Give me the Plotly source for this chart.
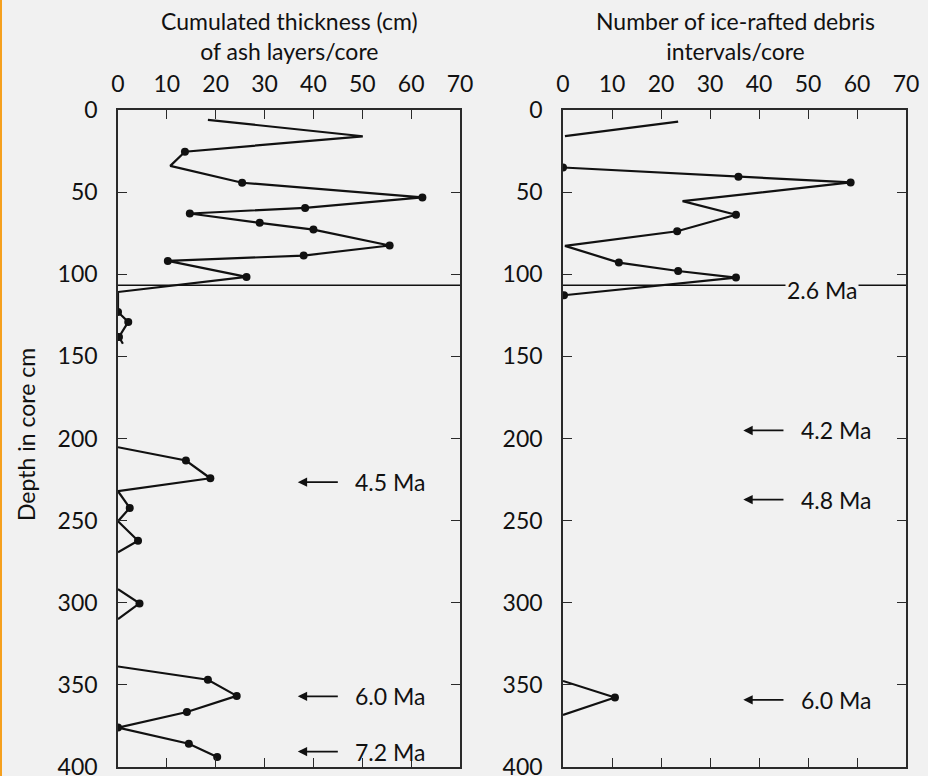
import plotly.graph_objects as go

# ---------------- data ----------------
# Left panel: cumulated thickness (cm) of ash layers per core vs depth (cm); None = gap
ash_depth = [6, 16, 25.4, 34, 44.3, 53.2, 59.6, 63, 68.7, 72.8, 82.5, 88.6, 91.9, 101.6, 110.8, 123, 129, 138.2, 142.3,
             None,
             205.3, 213.4, 224.2, 232.1, 242.3, 250.4, 262.2, 269.3,
             None,
             291.7, 300.4, 310,
             None,
             338.8, 346.9, 356.7, 366.5, 376, 385.8, 393.9]
ash_value = [18.4, 50.1, 13.7, 10.7, 25.4, 62.3, 38.3, 14.7, 29, 40, 55.6, 38, 10.2, 26.3, 0, 0, 2.1, 0.2, 1,
             None,
             0, 13.9, 18.9, 0, 2.4, 0, 4.1, 0,
             None,
             0, 4.4, 0,
             None,
             0, 18.4, 24.3, 14.1, 0, 14.5, 20.3]
ash_sampled = [0, 0, 1, 0, 1, 1, 1, 1, 1, 1, 1, 1, 1, 1, 0, 1, 1, 1, 0,
               0,
               0, 1, 1, 0, 1, 0, 1, 0,
               0,
               0, 1, 0,
               0,
               0, 1, 1, 1, 1, 1, 1]

# Right panel: number of ice-rafted debris intervals per core vs depth (cm)
ird_depth = [7.1, 15.9,
             None,
             35, 40.6, 44.1, 55.5, 63.8, 73.8, 82.7, 92.9, 98, 102, 112.8,
             None,
             347.6, 357.7, 368.3]
ird_value = [23.5, 0.4,
             None,
             0, 35.8, 58.7, 24.4, 35.3, 23.3, 0.4, 11.4, 23.5, 35.3, 0.2,
             None,
             0, 10.6, 0]
ird_sampled = [0, 0,
               0,
               1, 1, 1, 0, 1, 1, 0, 1, 1, 1, 1,
               0,
               0, 1, 0]

# Age markers
ash_ages = ["4.5 Ma", "6.0 Ma", "7.2 Ma"]
ash_age_depths = [226.6, 357, 390.6]
ird_ages = ["4.2 Ma", "4.8 Ma", "6.0 Ma"]
ird_age_depths = [195.1, 237.2, 359.1]
boundary_age = "2.6 Ma"
boundary_depth = 106.7

x_ticks = [0, 10, 20, 30, 40, 50, 60, 70]
y_ticks = [0, 50, 100, 150, 200, 250, 300, 350, 400]

left_title = "Cumulated thickness (cm)<br>of ash layers/core"
right_title = "Number of ice-rafted debris<br>intervals/core"
y_title = "Depth in core cm"

# ---------------- figure ----------------
FONT = "Lato"
BG = "#f1f1f1"
INK = "#111111"
W, H = 928, 776

fig = go.Figure()


def add_series(xs, ys, sampled, xa, ya):
    fig.add_trace(go.Scatter(x=xs, y=ys, mode="lines", line=dict(color=INK, width=2.2),
                             connectgaps=False, xaxis=xa, yaxis=ya, showlegend=False, hoverinfo="skip"))
    mx = [x for x, s in zip(xs, sampled) if s]
    my = [y for y, s in zip(ys, sampled) if s]
    fig.add_trace(go.Scatter(x=mx, y=my, mode="markers", marker=dict(color=INK, size=8),
                             xaxis=xa, yaxis=ya, showlegend=False))


add_series(ash_value, ash_depth, ash_sampled, "x", "y")
add_series(ird_value, ird_depth, ird_sampled, "x2", "y2")

ydom = [1 - 767 / H, 1 - 110 / H]
axis_common = dict(showline=True, linecolor="#2a2a2a", linewidth=1.5, mirror="ticks",
                   ticks="inside", ticklen=9, tickwidth=1.3, tickcolor="#2a2a2a",
                   showgrid=False, zeroline=False, automargin=False, ticklabeloverflow="allow",
                   tickfont=dict(family=FONT, size=23, color=INK))

fig.update_layout(
    width=W, height=H, autosize=False,
    margin=dict(l=0, r=0, t=0, b=0, pad=0, autoexpand=False),
    paper_bgcolor=BG, plot_bgcolor=BG,
    xaxis=dict(domain=[118 / W, 460 / W], range=[0, 70], tickvals=x_ticks, side="top",
               anchor="y", ticklabelstandoff=7, **axis_common),
    yaxis=dict(domain=ydom, range=[400, 0], tickvals=y_ticks, anchor="x",
               ticklabelstandoff=14, **axis_common),
    xaxis2=dict(domain=[563 / W, 906 / W], range=[0, 70], tickvals=x_ticks, side="top",
                anchor="y2", ticklabelstandoff=7, **axis_common),
    yaxis2=dict(domain=ydom, range=[400, 0], tickvals=y_ticks, anchor="x2",
                ticklabelstandoff=14, **axis_common),
)

# 2.6 Ma boundary line in both panels
for xr, yr in (("x", "y"), ("x2", "y2")):
    fig.add_shape(type="line", xref=xr, yref=yr, x0=0, x1=70, y0=boundary_depth, y1=boundary_depth,
                  line=dict(color=INK, width=1.6))
fig.add_annotation(xref="x2", yref="y2", x=52.9, y=boundary_depth + 3, text=boundary_age,
                   showarrow=False, bgcolor=BG, borderpad=1,
                   font=dict(family=FONT, size=23, color=INK))


def add_ages(labels, depths, xa, ya):
    for lab, d in zip(labels, depths):
        fig.add_annotation(xref=xa, yref=ya, x=36.8, y=d, ax=45.3, ay=d, axref=xa, ayref=ya,
                           text="", showarrow=True, arrowhead=2, arrowsize=1.1, arrowwidth=1.7,
                           arrowcolor=INK)
        fig.add_annotation(xref=xa, yref=ya, x=48.2, y=d, text=lab, showarrow=False,
                           xanchor="left", yanchor="middle",
                           font=dict(family=FONT, size=23, color=INK))


add_ages(ash_ages, ash_age_depths, "x", "y")
add_ages(ird_ages, ird_age_depths, "x2", "y2")

# Titles
fig.add_annotation(xref="paper", yref="paper", x=289 / W, y=1 - 36 / H, text=left_title,
                   showarrow=False, xanchor="center", yanchor="middle", align="center",
                   font=dict(family=FONT, size=23, color=INK))
fig.add_annotation(xref="paper", yref="paper", x=735 / W, y=1 - 36 / H, text=right_title,
                   showarrow=False, xanchor="center", yanchor="middle", align="center",
                   font=dict(family=FONT, size=23, color=INK))
fig.add_annotation(xref="paper", yref="paper", x=26 / W, y=1 - 435 / H, text=y_title,
                   showarrow=False, textangle=-90, xanchor="center", yanchor="middle",
                   font=dict(family=FONT, size=23, color=INK))

# orange strip on the left edge
fig.add_shape(type="rect", xref="paper", yref="paper", x0=0, x1=2 / W, y0=0, y1=1,
              fillcolor="#f5a01e", line=dict(width=0), layer="below")

fig.write_html(
    "out.html",
    config={"responsive": False, "displayModeBar": False},
    post_script="document.body.style.margin='0';document.body.style.overflow='hidden';"
                "document.documentElement.style.overflow='hidden';",
)
